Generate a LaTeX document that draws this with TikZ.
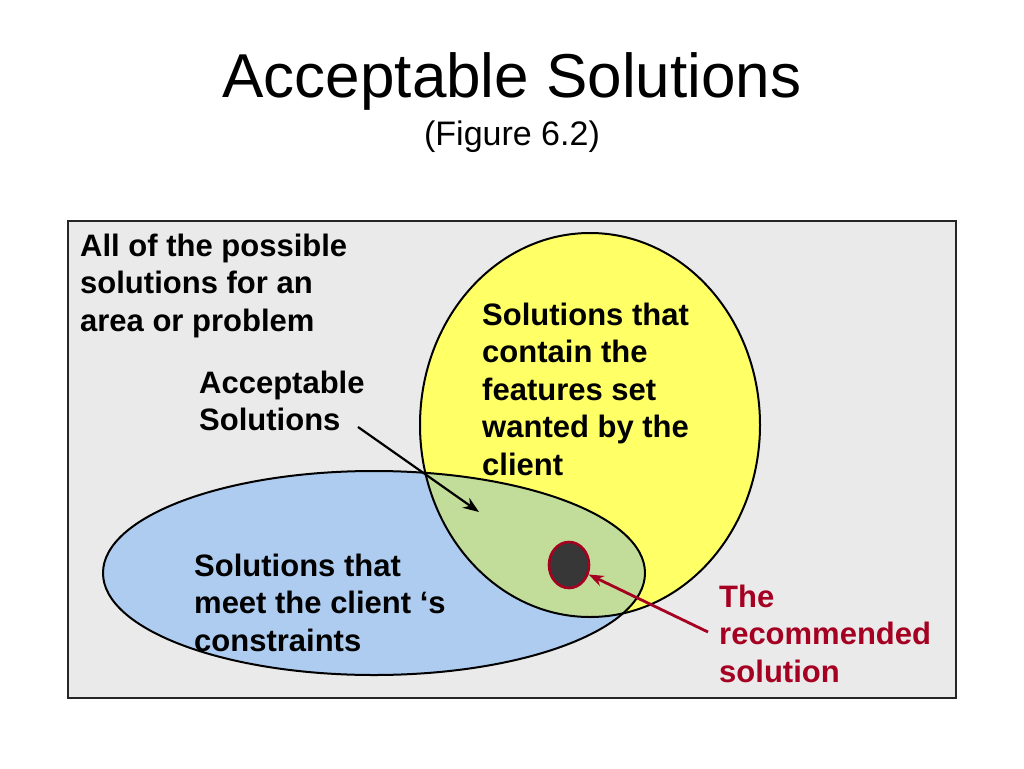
\documentclass[tikz,border=0pt]{standalone}
\usepackage{fontspec}
\setmainfont{Liberation Sans}
\usetikzlibrary{arrows.meta,shapes.geometric}
\definecolor{boxgray}{RGB}{234,234,234}
\definecolor{yel}{RGB}{255,255,102}
\definecolor{blu}{RGB}{174,204,240}
\definecolor{grn}{RGB}{194,220,154}
\definecolor{dred}{RGB}{165,0,33}
\definecolor{dkgray}{RGB}{55,55,55}
\begin{document}
\begin{tikzpicture}[x=1pt,y=-1pt,
  lbl/.style={anchor=north west, inner sep=0pt, align=left, font=\fontsize{31}{37.5}\selectfont\bfseries},
  outline/.style={draw=black, line width=2pt},
  blackarrow/.style={draw=black, line width=2.2pt, -{Stealth[length=16pt,width=12pt]}},
  redarrow/.style={draw=dred, line width=2.8pt, -{Stealth[length=15pt,width=11pt]}}]
\useasboundingbox (0,0) rectangle (1024,768);
\fill[white] (0,0) rectangle (1024,768);
% frame
\draw[fill=boxgray, line width=1.8pt, draw=black!85] (68,221) rectangle (956,698);
% fills
\fill[yel] (590,425) ellipse [x radius=170pt, y radius=192pt];
\fill[blu] (374,573) ellipse [x radius=271pt, y radius=102pt];
\begin{scope}
  \clip (590,425) ellipse [x radius=170pt, y radius=192pt];
  \fill[grn] (374,573) ellipse [x radius=271pt, y radius=102pt];
\end{scope}
% outlines
\draw[outline] (590,425) ellipse [x radius=170pt, y radius=192pt];
\draw[outline] (374,573) ellipse [x radius=271pt, y radius=102pt];
% recommended solution
\node[ellipse, draw=dred, fill=dkgray, line width=2.6pt, minimum width=40pt, minimum height=46pt, inner sep=0pt] (rec) at (569,565) {};
% title
\node[anchor=base, font=\fontsize{62}{70}\selectfont] (title) at (512,97) {Acceptable Solutions};
\node[anchor=base, font=\fontsize{34}{40}\selectfont] (fig) at (512,145) {(Figure 6.2)};
% labels
\node[lbl] (all) at (80,229.75) {\strut All of the possible\\solutions for an\\area or problem};
\node[lbl] (acc) at (199,366.75) {\strut Acceptable\\Solutions};
\node[lbl] (feat) at (482,298.75) {\strut Solutions that\\contain the\\features set\\wanted by the\\client};
\node[lbl] (cons) at (194,549.75) {\strut Solutions that\\meet the client ‘s\\constraints};
\node[lbl, text=dred] (recl) at (719,580.75) {\strut The\\recommended\\solution};
% arrows
\coordinate (accstart) at (358,427);
\coordinate (accend) at (479,512);
\coordinate (recstart) at (708,632);
\draw[blackarrow] (accstart) -- (accend);
\draw[redarrow] (recstart) -- (rec);
\end{tikzpicture}
\end{document}
